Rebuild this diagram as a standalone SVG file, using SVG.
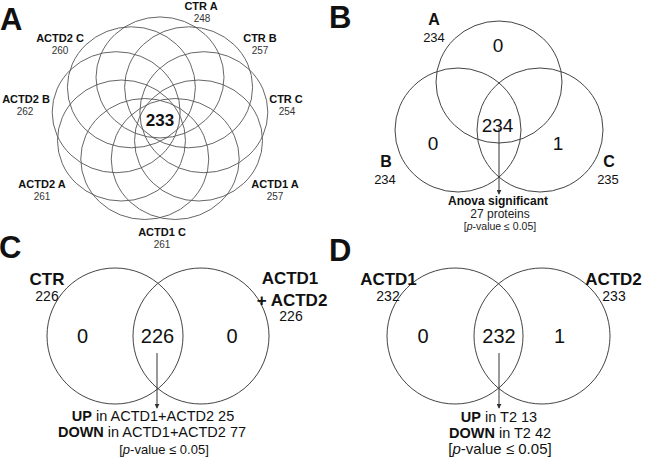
<svg xmlns="http://www.w3.org/2000/svg" width="654" height="474" viewBox="0 0 654 474">
<defs>
<marker id="arr" viewBox="0 0 6 6" refX="5" refY="3" markerWidth="5" markerHeight="5" orient="auto" markerUnits="userSpaceOnUse">
<path d="M0,0 L6,3 L0,6 z" fill="#333"/>
</marker>
<style>
text{font-family:"Liberation Sans",Arial,sans-serif;text-anchor:middle;fill:#111}
.pl{font-size:31px;font-weight:bold;text-anchor:start}
.fl{fill:none;stroke:#555;stroke-width:0.9}
.vc{fill:none;stroke:#444;stroke-width:1}
.al{font-size:11px;font-weight:bold}
.an{font-size:10px;fill:#333}
.big{font-size:20px}
.lab{font-size:17px;font-weight:bold}
.sn{font-size:14px}
.lead{stroke:#333;stroke-width:1;fill:none}
.note{font-size:14.5px}
</style>
</defs>

<g id="panelA">
<text class="pl" x="0" y="30">A</text>
<g id="flower">
<ellipse class="fl" cx="160" cy="77.45" rx="64" ry="60.5"/>
<ellipse class="fl" cx="131.4" cy="87.29" rx="64" ry="60.5"/>
<ellipse class="fl" cx="116.18" cy="112.2" rx="64" ry="60.5"/>
<ellipse class="fl" cx="121.46" cy="140.53" rx="64" ry="60.5"/>
<ellipse class="fl" cx="144.78" cy="159.01" rx="64" ry="60.5"/>
<ellipse class="fl" cx="175.22" cy="159.01" rx="64" ry="60.5"/>
<ellipse class="fl" cx="198.54" cy="140.53" rx="64" ry="60.5"/>
<ellipse class="fl" cx="203.82" cy="112.2" rx="64" ry="60.5"/>
<ellipse class="fl" cx="188.6" cy="87.29" rx="64" ry="60.5"/>
</g>
<g id="ctrA"><text class="al" x="201" y="10">CTR A</text><text class="an" x="202" y="22">248</text></g>
<g id="ctrB"><text class="al" x="260" y="42">CTR B</text><text class="an" x="260" y="54">257</text></g>
<g id="ctrC"><text class="al" x="286" y="103">CTR C</text><text class="an" x="287" y="115">254</text></g>
<g id="actd1A"><text class="al" x="275" y="188">ACTD1 A</text><text class="an" x="275" y="200">257</text></g>
<g id="actd1C"><text class="al" x="162" y="236">ACTD1 C</text><text class="an" x="162" y="248">261</text></g>
<g id="actd2A"><text class="al" x="42" y="188">ACTD2 A</text><text class="an" x="42" y="200">261</text></g>
<g id="actd2B"><text class="al" x="26" y="103">ACTD2 B</text><text class="an" x="25" y="115">262</text></g>
<g id="actd2C"><text class="al" x="60" y="42">ACTD2 C</text><text class="an" x="60" y="54">260</text></g>
<text x="160" y="126" style="font-size:17px;font-weight:bold">233</text>
</g>

<g id="panelB">
<text class="pl" x="329" y="28">B</text>
<g id="setA"><ellipse class="vc" cx="499" cy="82" rx="63" ry="61"/><text x="434" y="25" style="font-size:16px;font-weight:bold">A</text><text x="434" y="42" style="font-size:13px">234</text><text x="498" y="52" style="font-size:19px">0</text></g>
<g id="setB"><ellipse class="vc" cx="458" cy="130" rx="63" ry="62"/><text x="386" y="167" style="font-size:16px;font-weight:bold">B</text><text x="385" y="184" style="font-size:13px">234</text><text x="433" y="150" style="font-size:19px">0</text></g>
<g id="setC"><ellipse class="vc" cx="540" cy="130" rx="63" ry="62"/><text x="609" y="167" style="font-size:16px;font-weight:bold">C</text><text x="608" y="184" style="font-size:13px">235</text><text x="558" y="150" style="font-size:19px">1</text></g>
<text x="497.5" y="132" style="font-size:19px">234</text>
<g id="noteB"><text x="498" y="205" style="font-size:12px;font-weight:bold">Anova significant</text><text x="500" y="218" style="font-size:12px;fill:#222">27 proteins</text><text x="500" y="230" style="font-size:10.5px;fill:#222">[<tspan font-style="italic">p</tspan>-value ≤ 0.05]</text></g>
</g>

<g id="panelC">
<text class="pl" x="-1" y="258">C</text>
<g id="setCTR"><circle class="vc" cx="115" cy="336" r="68"/><text class="lab" x="47" y="285">CTR</text><text class="sn" x="47" y="301">226</text><text class="big" x="82.5" y="343">0</text></g>
<g id="setACTD12"><circle class="vc" cx="201" cy="336" r="68"/><text class="lab" x="290" y="284">ACTD1</text><text class="lab" x="292" y="306">+ ACTD2</text><text class="sn" x="291" y="321">226</text><text class="big" x="232" y="343">0</text></g>
<text class="big" x="157.5" y="343">226</text>
<g id="noteC"><text class="note" x="153" y="421"><tspan font-weight="bold">UP</tspan> in ACTD1+ACTD2 25</text><text class="note" x="152" y="437"><tspan font-weight="bold">DOWN</tspan> in ACTD1+ACTD2 77</text><text x="164" y="454" style="font-size:13px">[<tspan font-style="italic">p</tspan>-value ≤ 0.05]</text></g>
</g>

<g id="panelD">
<text class="pl" x="329" y="261">D</text>
<g id="setACTD1"><circle class="vc" cx="455" cy="336" r="68"/><text class="lab" x="388.5" y="285">ACTD1</text><text class="sn" x="388" y="301">232</text><text class="big" x="423" y="343">0</text></g>
<g id="setACTD2"><circle class="vc" cx="542" cy="336" r="68"/><text class="lab" x="613.5" y="285">ACTD2</text><text class="sn" x="614" y="301">233</text><text class="big" x="559.5" y="343">1</text></g>
<text class="big" x="499" y="343">232</text>
<g id="noteD"><text class="note" x="499" y="422"><tspan font-weight="bold">UP</tspan> in T2 13</text><text class="note" x="500" y="438"><tspan font-weight="bold">DOWN</tspan> in T2 42</text><text x="500" y="454" style="font-size:15px">[<tspan font-style="italic">p</tspan>-value ≤ 0.05]</text></g>
</g>

<g id="connectors">
<line class="lead" x1="499" y1="128" x2="499" y2="194" marker-end="url(#arr)"/>
<line class="lead" x1="157" y1="353" x2="157" y2="408" marker-end="url(#arr)"/>
<line class="lead" x1="499" y1="353" x2="499" y2="408" marker-end="url(#arr)"/>
</g>
</svg>
